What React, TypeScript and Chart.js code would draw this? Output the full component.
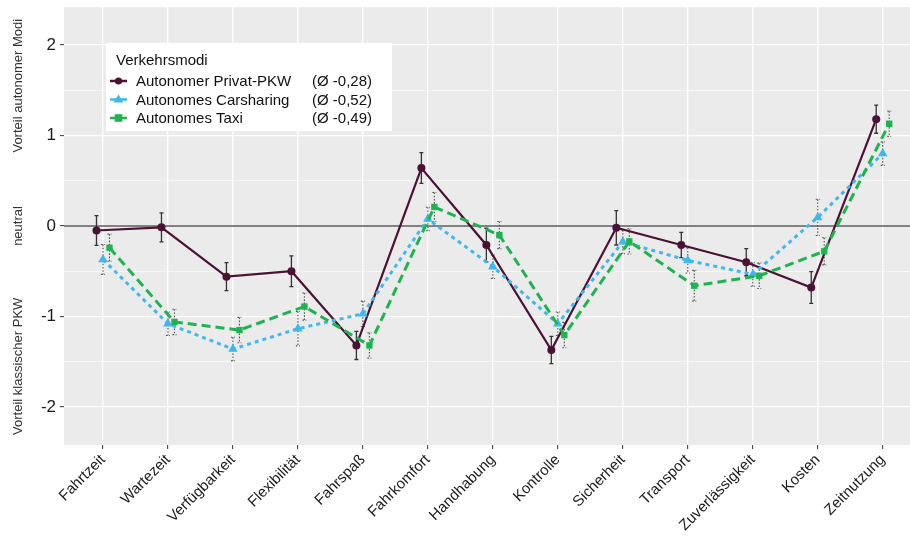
import React, { useEffect, useRef } from "react";
import { Chart, registerables } from "chart.js";

Chart.register(...registerables);

const categories = [
  "Fahrtzeit", "Wartezeit", "Verfügbarkeit", "Flexibilität", "Fahrspaß", "Fahrkomfort",
  "Handhabung", "Kontrolle", "Sicherheit", "Transport", "Zuverlässigkeit", "Kosten", "Zeitnutzung",
];

const privatValues = [-0.05, -0.015, -0.56, -0.5, -1.32, 0.64, -0.21, -1.37, -0.02, -0.21, -0.4, -0.68, 1.18];
const carsharingValues = [-0.37, -1.08, -1.36, -1.135, -0.97, 0.077, -0.45, -1.08, -0.175, -0.38, -0.535, 0.095, 0.8];
const taxiValues = [-0.24, -1.06, -1.15, -0.89, -1.32, 0.21, -0.1, -1.205, -0.17, -0.66, -0.55, -0.28, 1.13];

const privatErrors = [0.165, 0.16, 0.155, 0.17, 0.155, 0.17, 0.185, 0.15, 0.19, 0.14, 0.15, 0.175, 0.155];
const carsharingErrors = [0.165, 0.13, 0.13, 0.19, 0.14, 0.13, 0.13, 0.13, 0.13, 0.14, 0.13, 0.2, 0.13];
const taxiErrors = [0.15, 0.14, 0.14, 0.15, 0.14, 0.16, 0.15, 0.14, 0.14, 0.17, 0.14, 0.15, 0.14];

const seriesNames = ["Autonomer Privat-PKW", "Autonomes Carsharing", "Autonomes Taxi"];
const seriesMeans = ["(Ø -0,28)", "(Ø -0,52)", "(Ø -0,49)"];
const legendTitle = "Verkehrsmodi";

const yTickValues = [-2, -1.5, -1, -0.5, 0, 0.5, 1, 1.5, 2];
const yAxisTitles = [
  { text: "Vorteil autonomer Modi", at: 1.55 },
  { text: "neutral", at: 0 },
  { text: "Vorteil klassischer PKW", at: -1.55 },
];

const FONT = "'Liberation Sans', Arial, sans-serif";
const COLORS = ["#4b1236", "#3fb7ef", "#1fb34f"];
const OFFSETS = [-0.1, 0, 0.1];
const STYLES = ["circle", "triangle", "rect"];
const DASHES: number[][] = [[], [4, 4], [9, 5]];

export default function App() {
  const ref = useRef<HTMLCanvasElement | null>(null);

  useEffect(() => {
    document.body.style.margin = "0";
    const canvas = ref.current;
    if (!canvas) return;

    const valueSets = [privatValues, carsharingValues, taxiValues];
    const errorSets = [privatErrors, carsharingErrors, taxiErrors];

    const datasets = valueSets.map((vals, s) => ({
      label: seriesNames[s],
      data: categories.map((_, i) => ({ x: i + OFFSETS[s], y: vals[i] })),
      borderColor: COLORS[s],
      backgroundColor: COLORS[s],
      borderWidth: s === 0 ? 2.2 : 3,
      borderDash: DASHES[s],
      pointStyle: STYLES[s] as any,
      pointRadius: s === 0 ? 4 : s === 1 ? 5.5 : 4.5,
      pointBorderWidth: 0,
      pointBackgroundColor: COLORS[s],
      tension: 0,
      order: 3 - s,
    }));

    const bgPlugin = {
      id: "panelBg",
      beforeDraw(chart: any) {
        const { ctx, chartArea: a } = chart;
        ctx.save();
        ctx.fillStyle = "#ebebeb";
        ctx.fillRect(a.left, a.top, a.right - a.left, a.bottom - a.top);
        ctx.restore();
      },
      beforeDatasetsDraw(chart: any) {
        const { ctx, chartArea: a, scales } = chart;
        const y0 = scales.y.getPixelForValue(0);
        ctx.save();
        ctx.strokeStyle = "#5a5a5a";
        ctx.lineWidth = 1.5;
        ctx.beginPath();
        ctx.moveTo(a.left, y0);
        ctx.lineTo(a.right, y0);
        ctx.stroke();
        errorSets.forEach((errs, s) => {
          ctx.strokeStyle = s === 0 ? "#333333" : "#555555";
          ctx.lineWidth = s === 0 ? 1.3 : 1.1;
          ctx.setLineDash(s === 0 ? [] : [1.6, 1.6]);
          categories.forEach((_, i) => {
            const x = scales.x.getPixelForValue(i + OFFSETS[s]);
            const yt = scales.y.getPixelForValue(valueSets[s][i] + errs[i]);
            const yb = scales.y.getPixelForValue(valueSets[s][i] - errs[i]);
            ctx.beginPath();
            ctx.moveTo(x, yt);
            ctx.lineTo(x, yb);
            ctx.moveTo(x - 2, yt);
            ctx.lineTo(x + 2, yt);
            ctx.moveTo(x - 2, yb);
            ctx.lineTo(x + 2, yb);
            ctx.stroke();
          });
        });
        ctx.restore();
      },
      afterDraw(chart: any) {
        const { ctx, scales } = chart;
        ctx.save();
        ctx.fillStyle = "#333333";
        ctx.font = `13px ${FONT}`;
        ctx.textAlign = "center";
        ctx.textBaseline = "middle";
        yAxisTitles.forEach((t) => {
          const y = scales.y.getPixelForValue(t.at);
          ctx.save();
          ctx.translate(18, y);
          ctx.rotate(-Math.PI / 2);
          ctx.fillText(t.text, 0, 0);
          ctx.restore();
        });
        const bx = 106, by = 43, bw = 286, bh = 88;
        ctx.fillStyle = "#ffffff";
        ctx.fillRect(bx, by, bw, bh);
        ctx.fillStyle = "#111111";
        ctx.font = `15px ${FONT}`;
        ctx.textAlign = "left";
        ctx.textBaseline = "alphabetic";
        ctx.fillText(legendTitle, 116, 65);
        seriesNames.forEach((name, s) => {
          const cy = 81 + s * 18.5;
          ctx.strokeStyle = COLORS[s];
          ctx.lineWidth = 2.5;
          ctx.setLineDash([]);
          ctx.beginPath();
          ctx.moveTo(110, cy);
          ctx.lineTo(127, cy);
          ctx.stroke();
          ctx.fillStyle = COLORS[s];
          const px = 118.5;
          if (s === 0) {
            ctx.beginPath();
            ctx.arc(px, cy, 3.6, 0, Math.PI * 2);
            ctx.fill();
          } else if (s === 1) {
            ctx.beginPath();
            ctx.moveTo(px, cy - 5);
            ctx.lineTo(px + 5, cy + 3);
            ctx.lineTo(px - 5, cy + 3);
            ctx.closePath();
            ctx.fill();
          } else {
            ctx.fillRect(px - 3.8, cy - 3.8, 7.6, 7.6);
          }
          ctx.fillStyle = "#111111";
          ctx.textBaseline = "middle";
          ctx.fillText(name, 136, cy + 1);
          ctx.fillText(seriesMeans[s], 312, cy + 1);
        });
        ctx.restore();
      },
    };

    const chart = new Chart(canvas, {
      type: "line",
      data: { datasets: datasets as any },
      plugins: [bgPlugin],
      options: {
        animation: false,
        responsive: false,
        maintainAspectRatio: false,
        layout: { autoPadding: false, padding: { top: 7, right: 0, left: 0, bottom: 0 } },
        plugins: { legend: { display: false }, tooltip: { enabled: false } },
        scales: {
          x: {
            type: "linear",
            min: -0.6,
            max: 12.42,
            afterBuildTicks(scale: any) {
              scale.ticks = categories.map((_, i) => ({ value: i }));
            },
            afterFit(scale: any) {
              scale.height = 92;
              scale.paddingLeft = 0;
              scale.paddingRight = 0;
            },
            border: { display: false },
            grid: {
              color: "#ffffff",
              lineWidth: 1.3,
              drawTicks: true,
              tickLength: 4,
              tickColor: "#333333",
              tickWidth: 1,
            },
            ticks: {
              autoSkip: false,
              maxRotation: 45,
              minRotation: 45,
              padding: 2,
              color: "#1a1a1a",
              font: { family: FONT, size: 15 },
              callback: (v: any) => categories[Math.round(Number(v))] ?? "",
            },
          },
          y: {
            type: "linear",
            min: -2.42,
            max: 2.42,
            afterBuildTicks(scale: any) {
              scale.ticks = yTickValues.map((v) => ({ value: v }));
            },
            afterFit(scale: any) {
              scale.width = 64;
              scale.paddingTop = 0;
              scale.paddingBottom = 0;
            },
            border: { display: false },
            grid: {
              color: "#ffffff",
              lineWidth: (c: any) => (Number.isInteger(c.tick?.value) ? 1.3 : 0.6),
              drawTicks: true,
              tickLength: 4,
              tickColor: (c: any) => (Number.isInteger(c.tick?.value) ? "#333333" : "rgba(0,0,0,0)"),
              tickWidth: 1,
            },
            ticks: {
              padding: 4,
              color: "#1a1a1a",
              font: { family: FONT, size: 17 },
              callback: (v: any) => (Number.isInteger(Number(v)) ? String(v) : ""),
            },
          },
        },
      },
    });

    return () => chart.destroy();
  }, []);

  return (
    <div style={{ width: 910, height: 537 }}>
      <canvas ref={ref} width={910} height={537} style={{ display: "block" }} />
    </div>
  );
}
